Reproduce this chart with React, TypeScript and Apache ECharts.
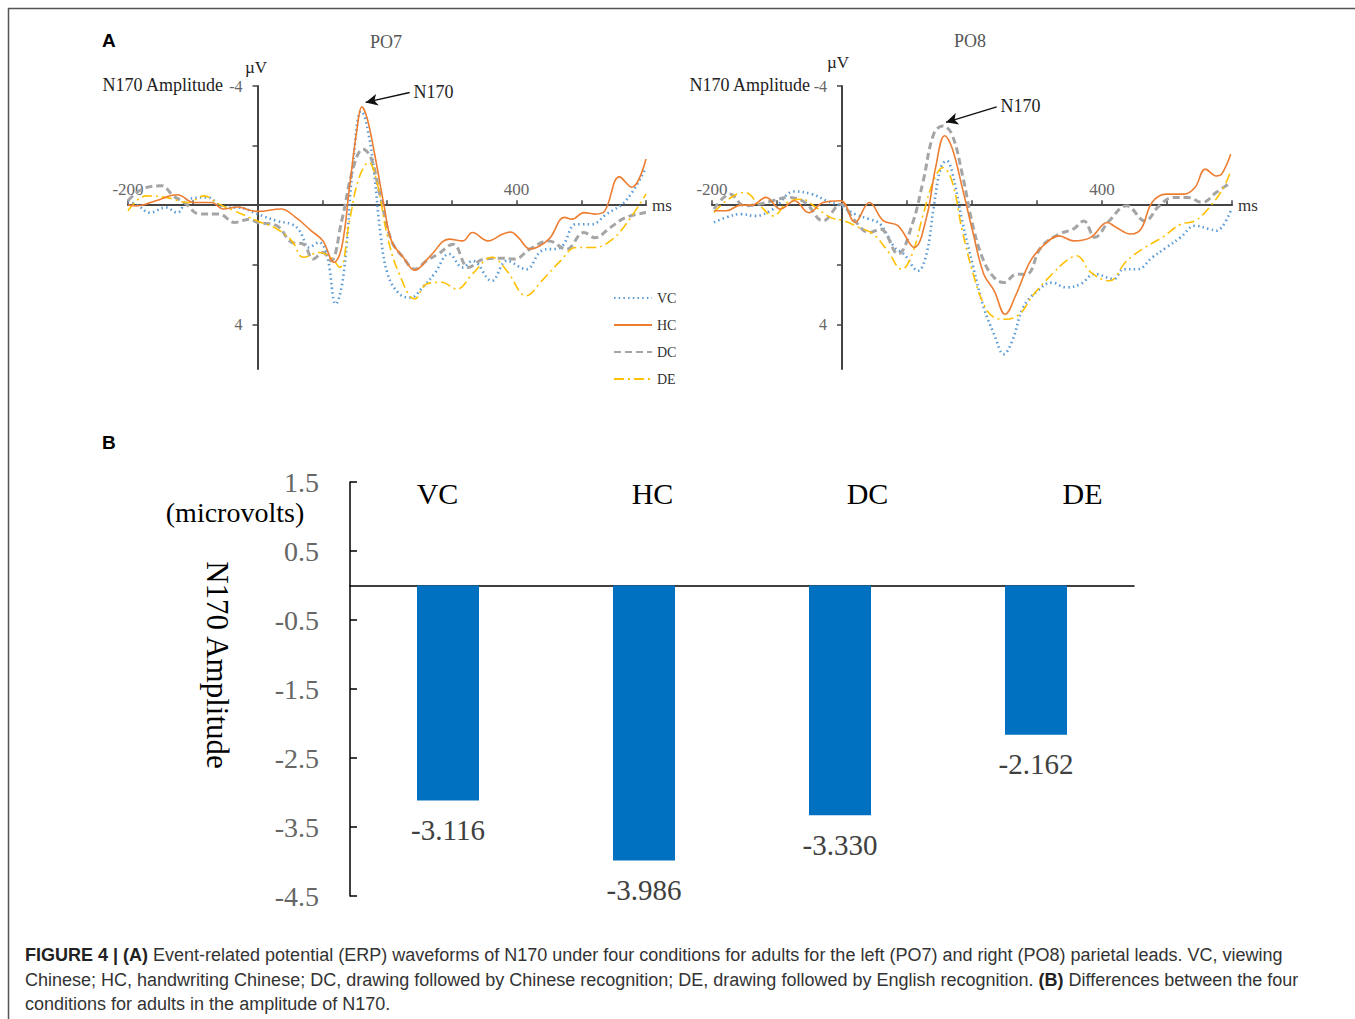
import React, { useEffect, useRef } from "react";
import * as echarts from "echarts";

// ---------- Panel A data: [time ms, amplitude µV] ----------
const PO7_VC = [[-200,-0.15],[-184,0.02],[-166,0.25],[-142,0.08],[-124,0.25],[-107,-0.2],[-77,-0.26],[-53,0.08],[-30,0.08],[0,0.3],[30,0.53],[53,0.64],[65,0.86],[80,1.42],[95,1.25],[107,1.64],[121,3.32],[133,2.31],[148,-1.49],[160,-3.16],[166,-2.94],[178,-1.49],[190,0.97],[201,2.31],[219,2.98],[237,3.1],[255,2.76],[273,2.31],[296,1.64],[317,2.09],[332,1.87],[362,2.54],[385,1.87],[415,2.15],[439,1.53],[468,1.42],[492,0.64],[516,0.64],[539,0.3],[569,-0.15],[600,-1.26]];
const PO7_HC = [[-200,0],[-185,0.02],[-157,-0.15],[-124,-0.35],[-98,-0.09],[-71,-0.09],[-53,0.13],[-30,0.06],[-12,0.17],[0,0.21],[36,0.13],[59,0.41],[83,0.86],[101,1.2],[118,1.92],[130,1.42],[142,-0.6],[154,-2.6],[161,-3.3],[169,-2.94],[181,-1.7],[196,0.08],[207,1.2],[225,1.75],[243,2.18],[267,1.7],[296,1.14],[317,1.2],[332,0.92],[356,1.2],[379,0.97],[391,0.9],[403,1.09],[421,1.47],[450,1.14],[474,0.41],[486,0.47],[504,0.25],[521,0.3],[536,0.2],[559,-0.95],[578,-0.6],[600,-1.55]];
const PO7_DC = [[-200,-0.15],[-178,-0.54],[-148,-0.65],[-130,-0.31],[-113,-0.09],[-89,0.3],[-59,0.3],[-36,0.58],[-12,0.47],[0,0.58],[30,0.69],[53,1.25],[71,1.31],[86,1.81],[101,1.59],[113,1.87],[130,0.53],[148,-1.26],[163,-1.88],[175,-1.6],[190,-0.26],[207,1.2],[225,1.75],[243,2.15],[261,1.87],[279,1.64],[302,1.31],[326,2.09],[350,1.81],[379,1.78],[397,1.81],[421,1.47],[450,1.2],[477,1.48],[504,0.92],[521,1.09],[545,0.75],[569,0.41],[600,0.25]];
const PO7_DE = [[-200,0.19],[-172,-0.31],[-142,-0.26],[-107,-0.09],[-83,-0.31],[-59,-0.03],[-36,0.19],[0,0.53],[30,0.8],[53,1.2],[71,1.75],[95,1.59],[113,1.75],[127,2.09],[142,0.53],[157,-0.93],[172,-1.43],[184,-0.82],[201,1.08],[219,2.31],[243,3.15],[261,2.65],[284,2.59],[308,2.82],[332,2.31],[362,1.75],[385,2.2],[415,3.04],[439,2.54],[468,1.87],[492,1.42],[521,1.42],[545,1.2],[569,0.64],[600,-0.37]];

const PO8_VC = [[-197,0.58],[-178,0.41],[-156,0.3],[-134,0.36],[-106,0.13],[-73,-0.46],[-46,-0.37],[-24,-0.15],[-2,0.02],[20,0.3],[42,0.47],[59,0.64],[81,1.42],[95,1.64],[117,2.2],[130,1.64],[141,0.08],[152,-1.26],[161,-1.49],[169,-1.15],[185,0.53],[202,2.09],[218,3.43],[234,4.33],[249,5.0],[262,4.55],[279,3.43],[301,2.87],[323,2.6],[345,2.76],[367,2.65],[389,2.31],[418,2.48],[433,2.15],[455,2.15],[477,1.76],[499,1.42],[521,1.08],[543,0.69],[565,0.8],[576,0.86],[598,0.19]];
const PO8_HC = [[-197,0.19],[-178,0.19],[-156,0],[-139,0],[-117,-0.26],[-95,0.13],[-73,-0.15],[-51,0.25],[-29,-0.09],[-2,-0.15],[20,0.58],[42,-0.09],[64,0.53],[86,0.69],[111,1.42],[130,0.41],[144,-1.26],[158,-2.33],[169,-1.94],[185,-0.59],[202,0.97],[218,2.31],[234,2.87],[251,3.66],[268,2.99],[290,1.87],[312,1.31],[334,1.03],[356,1.2],[383,1.08],[408,0.58],[422,0.75],[444,0.97],[460,0.8],[477,-0.09],[499,-0.37],[526,-0.37],[543,-0.59],[559,-1.21],[576,-0.98],[584,-1.04],[598,-1.71]];
const PO8_DC = [[-197,0.13],[-172,-0.37],[-150,0.02],[-128,-0.03],[-106,-0.15],[-84,-0.26],[-57,-0.09],[-29,0.53],[-2,-0.03],[20,0.53],[42,0.92],[59,0.8],[86,1.64],[108,0.64],[125,-0.82],[141,-2.38],[155,-2.66],[169,-2.38],[185,-1.04],[202,0.75],[218,1.87],[234,2.43],[249,2.6],[268,2.32],[284,2.32],[306,1.42],[334,0.97],[356,0.8],[372,0.53],[389,1.08],[411,0.53],[438,0.02],[466,0.53],[488,0.02],[510,-0.26],[532,-0.26],[554,-0.09],[576,-0.43],[598,-0.76]];
const PO8_DE = [[-197,0.25],[-178,-0.15],[-150,-0.43],[-128,-0.03],[-106,0.36],[-84,-0.09],[-62,-0.2],[-40,0.08],[-18,0.41],[4,0.53],[26,0.75],[48,0.97],[70,1.53],[92,2.15],[108,1.64],[125,0.3],[141,-0.82],[155,-1.26],[169,-0.82],[185,0.86],[202,2.32],[218,3.32],[234,3.77],[251,3.83],[273,3.66],[295,2.99],[323,2.32],[345,1.87],[361,1.7],[383,2.26],[411,2.54],[438,1.87],[466,1.42],[493,1.08],[521,0.64],[543,0.53],[565,0.08],[587,-0.59],[598,-1.15]];

// N170 arrow: [tail, head] in data coords
const PO7_ARROW = [[235, -3.78], [167, -3.45]];
const PO8_ARROW = [[238, -3.3], [160, -2.78]];

const CONDITIONS = ["VC", "HC", "DC", "DE"];
const X_MIN = -200;
const X_MAX = 600;
const Y_MIN = -4;
const Y_MAX = 5.5;
const X_LABELS = [-200, 400];
const Y_LABELS = [-4, 4];

// ---------- Panel B data ----------
const BAR_CATEGORIES = ["VC", "HC", "DC", "DE"];
const BAR_VALUES = [-3.116, -3.986, -3.33, -2.162];
const BAR_MIN = -4.5;
const BAR_MAX = 1.5;

const SERIF = "Liberation Serif";
const SANS = "Liberation Sans";

const STYLES: Record<string, any> = {
  VC: { color: "#5B9BD5", width: 2.6, type: [1.5, 3.2] },
  HC: { color: "#ED7D31", width: 1.6, type: "solid" },
  DC: { color: "#A5A5A5", width: 3, type: [7, 4] },
  DE: { color: "#FFC000", width: 1.6, type: [10, 4, 2, 4] },
};

const ERP_GRIDS = [
  { left: 128, top: 86, width: 518, height: 283 },
  { left: 712, top: 86, width: 520, height: 283 },
];

function lineSeries(name: string, data: number[][], idx: number, arrow?: number[][]) {
  const s: any = {
    name,
    type: "line",
    xAxisIndex: idx,
    yAxisIndex: idx,
    data,
    smooth: 0.4,
    symbol: "none",
    lineStyle: STYLES[name],
    itemStyle: { color: STYLES[name].color },
    z: name === "HC" ? 4 : 3,
  };
  if (arrow) {
    s.markLine = {
      silent: true,
      symbol: ["none", "arrow"],
      symbolSize: [9, 12],
      lineStyle: { color: "#111", width: 1.5, type: "solid" },
      label: {
        show: true,
        position: "start",
        formatter: "N170",
        fontFamily: SERIF,
        fontSize: 18,
        color: "#222",
        distance: 4,
      },
      data: [[{ coord: arrow[0] }, { coord: arrow[1] }]],
    };
  }
  return s;
}

// x axis drawn through y = 0 (offset derived from the y scale)
function erpXAxis(gridIndex: number) {
  const h = ERP_GRIDS[gridIndex].height;
  return {
    type: "value",
    gridIndex,
    min: X_MIN,
    max: X_MAX,
    interval: 100,
    offset: -(h * (Y_MAX - 0)) / (Y_MAX - Y_MIN),
    name: "ms",
    nameLocation: "end",
    nameGap: 6,
    nameTextStyle: { fontFamily: SERIF, fontSize: 17, color: "#333", verticalAlign: "middle" },
    axisLine: { onZero: false, lineStyle: { color: "#444", width: 2 } },
    axisTick: { show: true, inside: true, length: 5, lineStyle: { color: "#444", width: 1.5 } },
    axisLabel: {
      inside: true,
      margin: 7,
      fontFamily: SERIF,
      fontSize: 17,
      color: "#666",
      showMinLabel: true,
      showMaxLabel: true,
      formatter: (v: number) => (X_LABELS.includes(v) ? String(v) : ""),
    },
    splitLine: { show: false },
  };
}

// y axis drawn through t = 0 (offset derived from the x scale)
function erpYAxis(gridIndex: number) {
  const w = ERP_GRIDS[gridIndex].width;
  return {
    type: "value",
    gridIndex,
    inverse: true,
    min: Y_MIN,
    max: Y_MAX,
    interval: 2,
    offset: -(w * (0 - X_MIN)) / (X_MAX - X_MIN),
    axisLine: { show: true, onZero: false, lineStyle: { color: "#444", width: 2 } },
    axisTick: { show: true, inside: false, length: 5, lineStyle: { color: "#444", width: 1.5 } },
    axisLabel: {
      margin: 15,
      fontFamily: SERIF,
      fontSize: 16,
      color: "#666",
      showMaxLabel: false,
      formatter: (v: number) => (Y_LABELS.includes(v) ? String(v) : ""),
    },
    splitLine: { show: false },
  };
}

function txt(x: number, y: number, text: string, opts: any = {}) {
  return {
    type: "text",
    x,
    y,
    rotation: opts.rotation || 0,
    style: {
      text,
      fontFamily: opts.fontFamily || SERIF,
      fontSize: opts.fontSize || 18,
      fontWeight: opts.fontWeight || "normal",
      fill: opts.fill || "#222",
      align: opts.align || "left",
      verticalAlign: "middle",
      rich: opts.rich,
    },
  };
}

export default function App() {
  const ref = useRef<HTMLDivElement>(null);

  useEffect(() => {
    if (!ref.current) return;
    const chart = echarts.init(ref.current, undefined, { renderer: "svg" });

    const CAP = 18;
    const captionRich = {
      b: { fontFamily: SANS, fontSize: CAP, fontWeight: "bold", fill: "#222", color: "#222" },
    };

    const option: any = {
      animation: false,
      backgroundColor: "#fff",
      grid: [
        { ...ERP_GRIDS[0], outerBoundsMode: "none" },
        { ...ERP_GRIDS[1], outerBoundsMode: "none" },
        { left: 350, top: 482, width: 784, height: 414, outerBoundsMode: "none" },
        { left: 330, top: 512, width: 860, height: 10, outerBoundsMode: "none" },
      ],
      legend: {
        data: CONDITIONS,
        orient: "vertical",
        left: 608,
        top: 286,
        itemWidth: 38,
        itemHeight: 14,
        itemGap: 13,
        itemStyle: { opacity: 0 },
        textStyle: { fontFamily: SERIF, fontSize: 14, color: "#333" },
        selectedMode: false,
      },
      xAxis: [
        erpXAxis(0),
        erpXAxis(1),
        {
          type: "category",
          gridIndex: 2,
          data: BAR_CATEGORIES,
          axisLine: { onZero: true, lineStyle: { color: "#000", width: 1.5 } },
          axisTick: { show: false },
          axisLabel: { show: false },
        },
        {
          type: "category",
          gridIndex: 3,
          position: "top",
          data: BAR_CATEGORIES,
          axisLine: { show: false },
          axisTick: { show: false },
          axisLabel: { fontFamily: SERIF, fontSize: 30, color: "#000", margin: 4 },
        },
      ],
      yAxis: [
        erpYAxis(0),
        erpYAxis(1),
        {
          type: "value",
          gridIndex: 2,
          min: BAR_MIN,
          max: BAR_MAX,
          interval: 1,
          axisLine: { show: true, onZero: false, lineStyle: { color: "#000", width: 1.5 } },
          axisTick: { show: true, inside: true, length: 7, lineStyle: { color: "#000", width: 1.5 } },
          axisLabel: {
            margin: 31,
            fontFamily: SERIF,
            fontSize: 28,
            color: "#666",
            formatter: (v: number) => v.toFixed(1),
          },
          splitLine: { show: false },
        },
        { type: "value", gridIndex: 3, min: 0, max: 1, show: false },
      ],
      series: [
        lineSeries("VC", PO7_VC, 0),
        lineSeries("HC", PO7_HC, 0, PO7_ARROW),
        lineSeries("DC", PO7_DC, 0),
        lineSeries("DE", PO7_DE, 0),
        lineSeries("VC", PO8_VC, 1),
        lineSeries("HC", PO8_HC, 1),
        lineSeries("DC", PO8_DC, 1, PO8_ARROW),
        lineSeries("DE", PO8_DE, 1),
        {
          name: "N170 amplitude",
          type: "bar",
          xAxisIndex: 2,
          yAxisIndex: 2,
          data: BAR_VALUES,
          barWidth: 62,
          itemStyle: { color: "#0070C0" },
          label: {
            show: true,
            position: "bottom",
            distance: 15,
            fontFamily: SERIF,
            fontSize: 29,
            color: "#404040",
            formatter: (p: any) => Number(p.value).toFixed(3),
          },
        },
      ],
      graphic: [
        {
          type: "rect",
          shape: { x: 8.5, y: 8.5, width: 1400, height: 1100 },
          style: { fill: "none", stroke: "#555", lineWidth: 1.5 },
          silent: true,
        },
        txt(102, 40, "A", { fontFamily: SANS, fontWeight: "bold", fontSize: 19, fill: "#000" }),
        txt(102, 442, "B", { fontFamily: SANS, fontWeight: "bold", fontSize: 19, fill: "#000" }),
        txt(386, 42, "PO7", { align: "center", fontSize: 18, fill: "#555" }),
        txt(970, 41, "PO8", { align: "center", fontSize: 18, fill: "#555" }),
        txt(256, 67, "µV", { align: "center", fontSize: 17 }),
        txt(838, 62, "µV", { align: "center", fontSize: 17 }),
        txt(223, 85, "N170 Amplitude", { align: "right", fontSize: 18 }),
        txt(810, 85, "N170 Amplitude", { align: "right", fontSize: 18 }),
        txt(235, 512, "(microvolts)", { align: "center", fontSize: 28, fill: "#000" }),
        txt(217, 665, "N170 Amplitude", { align: "center", fontSize: 31, fill: "#000", rotation: -Math.PI / 2 }),
        txt(25, 955, "{b|FIGURE 4 | (A)} Event-related potential (ERP) waveforms of N170 under four conditions for adults for the left (PO7) and right (PO8) parietal leads. VC, viewing", { fontFamily: SANS, fontSize: CAP, fill: "#333", rich: captionRich }),
        txt(25, 980, "Chinese; HC, handwriting Chinese; DC, drawing followed by Chinese recognition; DE, drawing followed by English recognition. {b|(B)} Differences between the four", { fontFamily: SANS, fontSize: CAP, fill: "#333", rich: captionRich }),
        txt(25, 1004, "conditions for adults in the amplitude of N170.", { fontFamily: SANS, fontSize: CAP, fill: "#333" }),
      ],
    };

    chart.setOption(option);
    return () => chart.dispose();
  }, []);

  return (
    <div
      ref={ref}
      style={{ position: "absolute", left: 0, top: 0, width: 1355, height: 1019, background: "#fff" }}
    />
  );
}
